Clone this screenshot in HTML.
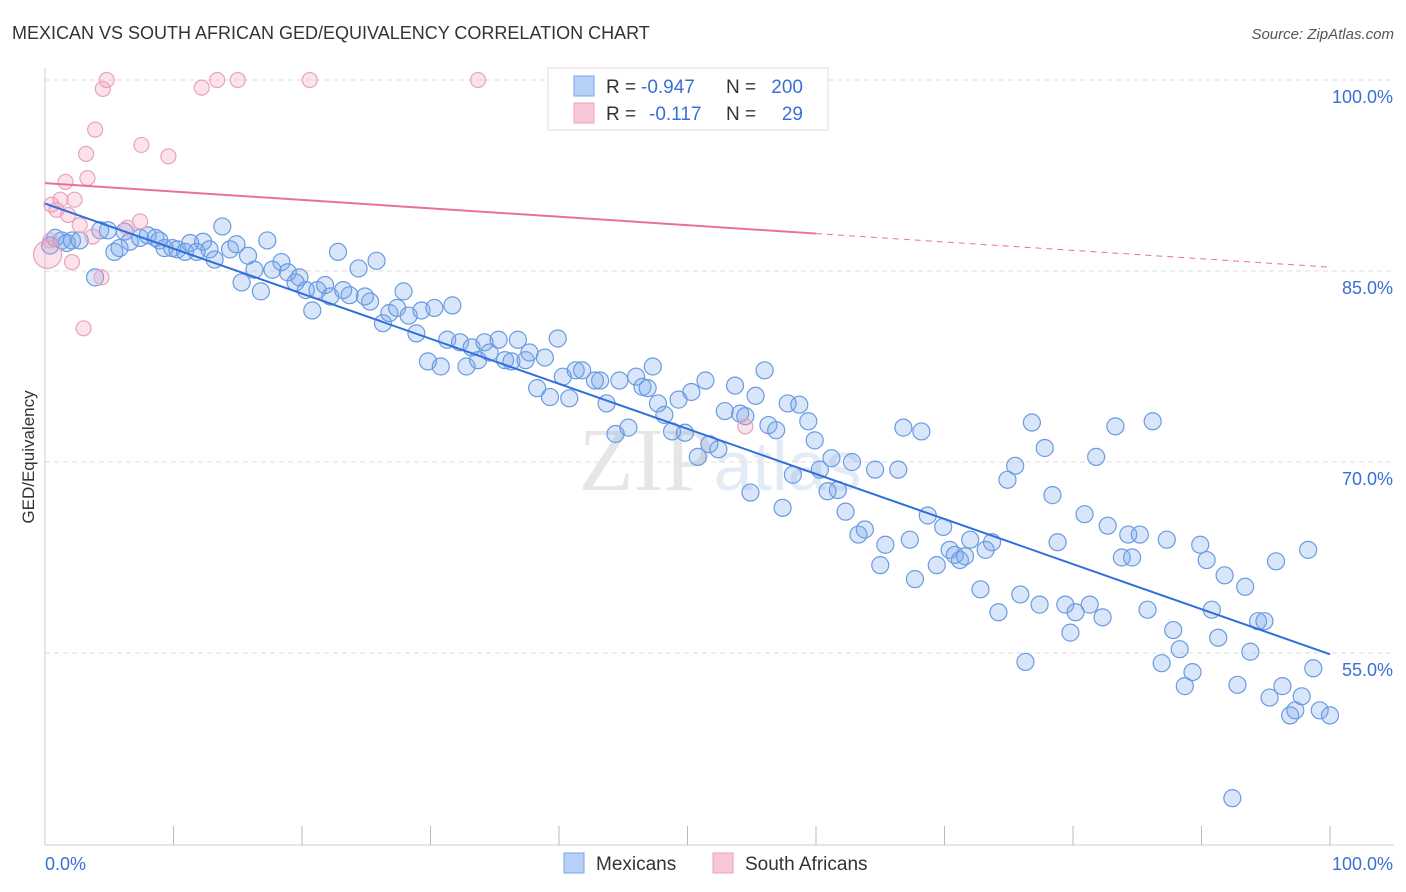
<!DOCTYPE html>
<html><head><meta charset="utf-8">
<style>
body{margin:0;background:#fff;font-family:"Liberation Sans",sans-serif;}
svg{display:block}
</style></head>
<body>
<svg id="chart" width="1406" height="892">
<text x="12" y="39" font-size="18" fill="#333">MEXICAN VS SOUTH AFRICAN GED/EQUIVALENCY CORRELATION CHART</text>
<text x="1394" y="39" font-size="15" fill="#555" font-style="italic" text-anchor="end">Source: ZipAtlas.com</text>
<text x="720" y="490" font-size="90" fill="#e6e6e6" text-anchor="middle" font-family="Liberation Serif">ZIP<tspan fill="#e3ebf6" font-family="Liberation Sans" font-size="70">atlas</tspan></text>
<g id="grid"></g>
<g id="axes"></g>
<g id="pts"></g>
<g id="trend"></g>
<text transform="translate(34,457) rotate(-90)" font-size="17" fill="#333" text-anchor="middle">GED/Equivalency</text>
<g font-size="19">
<rect x="548" y="68" width="280" height="62" fill="#fff" stroke="#ddd"/>
<rect x="574" y="76" width="20" height="20" fill="#b7d0f5" stroke="#7aa5e6"/>
<text x="606" y="93" fill="#333">R =</text>
<text x="641" y="93" fill="#3a6fd8">-0.947</text>
<text x="726" y="93" fill="#333">N =</text>
<text x="803" y="93" fill="#3a6fd8" text-anchor="end">200</text>
<rect x="574" y="103" width="20" height="20" fill="#f8c8d8" stroke="#eea0bb"/>
<text x="606" y="120" fill="#333">R =</text>
<text x="649" y="120" fill="#3a6fd8">-0.117</text>
<text x="726" y="120" fill="#333">N =</text>
<text x="803" y="120" fill="#3a6fd8" text-anchor="end">29</text>
</g>
<g>
<rect x="564" y="853" width="20" height="20" fill="#b7d0f5" stroke="#7aa5e6"/>
<text x="596" y="870" font-size="19" fill="#333">Mexicans</text>
<rect x="713" y="853" width="20" height="20" fill="#f8c8d8" stroke="#eea0bb"/>
<text x="745" y="870" font-size="19" fill="#333">South Africans</text>
</g>
</svg>
<script>
const blueX=[0.4,0.8,1.3,1.7,2.1,2.7,3.9,4.3,4.9,5.4,5.8,6.2,6.6,7.4,8.0,8.6,8.9,9.3,9.9,10.3,10.9,11.3,11.8,12.3,12.8,13.2,13.8,14.4,14.9,15.3,15.8,16.3,16.8,17.3,17.7,18.4,18.9,19.5,19.8,20.3,20.8,21.2,21.8,22.2,22.8,23.2,23.7,24.4,24.9,25.3,25.8,26.3,26.8,27.4,27.9,28.3,28.9,29.3,29.8,30.3,30.8,31.3,31.7,32.3,32.8,33.2,33.7,34.2,34.6,35.3,35.8,36.3,36.8,37.4,37.7,38.9,39.9,38.3,39.3,40.3,40.8,41.3,41.8,42.8,43.2,43.7,44.4,44.7,45.4,46.0,46.5,46.9,47.3,47.7,48.2,48.8,49.3,49.8,50.3,50.8,51.4,51.7,52.4,52.9,53.7,54.1,54.5,54.9,55.3,56.0,56.3,56.9,57.4,57.8,58.2,58.7,59.4,59.9,60.3,60.9,61.2,61.7,62.3,62.8,63.3,63.8,64.6,65.0,65.4,66.4,66.8,67.3,67.7,68.2,68.7,69.4,69.9,70.4,70.8,71.2,71.6,72.0,72.8,73.2,73.7,74.2,74.9,75.5,75.9,76.3,76.8,77.4,77.8,78.4,78.8,79.4,79.8,80.2,80.9,81.3,81.8,82.3,82.7,83.3,83.8,84.3,84.6,85.2,85.8,86.2,86.9,87.3,87.8,88.3,88.7,89.3,89.9,90.4,90.8,91.3,91.8,92.4,92.8,93.4,93.8,94.4,94.9,95.3,95.8,96.3,96.9,97.3,97.8,98.3,98.7,99.2,100.0];
const blueY=[87.0,87.6,87.4,87.2,87.4,87.4,84.5,88.2,88.2,86.5,86.8,88.1,87.3,87.6,87.8,87.6,87.4,86.8,86.8,86.7,86.5,87.2,86.5,87.3,86.7,85.9,88.5,86.7,87.1,84.1,86.2,85.1,83.4,87.4,85.1,85.7,84.9,84.1,84.5,83.5,81.9,83.5,83.9,83.0,86.5,83.5,83.1,85.2,83.0,82.6,85.8,80.9,81.7,82.1,83.4,81.5,80.1,81.9,77.9,82.1,77.5,79.6,82.3,79.4,77.5,79.0,78.0,79.4,78.6,79.6,78.0,77.9,79.6,78.0,78.6,78.2,79.7,75.8,75.1,76.7,75.0,77.2,77.2,76.4,76.4,74.6,72.2,76.4,72.7,76.7,75.9,75.8,77.5,74.6,73.7,72.4,74.9,72.3,75.5,70.4,76.4,71.4,71.0,74.0,76.0,73.8,73.6,67.6,75.2,77.2,72.9,72.5,66.4,74.6,69.0,74.5,73.2,71.7,69.4,67.7,70.3,67.8,66.1,70.0,64.3,64.7,69.4,61.9,63.5,69.4,72.7,63.9,60.8,72.4,65.8,61.9,64.9,63.1,62.7,62.3,62.6,63.9,60.0,63.1,63.7,58.2,68.6,69.7,59.6,54.3,73.1,58.8,71.1,67.4,63.7,58.8,56.6,58.2,65.9,58.8,70.4,57.8,65.0,72.8,62.5,64.3,62.5,64.3,58.4,73.2,54.2,63.9,56.8,55.3,52.4,53.5,63.5,62.3,58.4,56.2,61.1,43.6,52.5,60.2,55.1,57.5,57.5,51.5,62.2,52.4,50.1,50.5,51.6,63.1,53.8,50.5,50.1];
const pinkX=[0.2,0.4,0.5,0.9,1.2,1.6,1.8,2.1,2.3,2.7,3.0,3.2,3.3,3.7,3.9,4.4,4.5,4.8,6.4,7.4,7.5,9.6,12.2,13.4,15.0,20.6,33.7,54.5];
const pinkY=[86.3,87.4,90.2,89.8,90.6,92.0,89.4,85.7,90.6,88.6,80.5,94.2,92.3,87.7,96.1,84.5,99.3,100,88.4,88.9,94.9,94.0,99.4,100,100,100,100,72.8];
const blueTrend=[90.3,54.9];
const pinkTrend=[91.9,85.3];
const yTicks=[100,85,70,55];
const xTickLabels=["0.0%","100.0%"];

const NS="http://www.w3.org/2000/svg";
const X0=45,X1=1330,YTOP=80;
const sx=v=>X0+(X1-X0)*v/100;
const sy=v=>YTOP+(100-v)/15*191;
function mk(tag,attrs,parent){const e=document.createElementNS(NS,tag);for(const k in attrs)e.setAttribute(k,attrs[k]);parent.appendChild(e);return e;}
const grid=document.getElementById('grid'),axes=document.getElementById('axes'),pts=document.getElementById('pts'),trend=document.getElementById('trend');
yTicks.forEach(t=>{
  const l=mk('line',{x1:X0,x2:1394,y1:sy(t),y2:sy(t),stroke:'#ddd','stroke-dasharray':'5,4'},grid);
  
  
  const tx=mk('text',{x:1393,y:sy(t)+23,'font-size':18,fill:'#3a6fd8','text-anchor':'end'},axes);
  tx.textContent=t.toFixed(1)+'%';
  
  
});
const ax=mk('line',{x1:X0,x2:1394,y1:845,y2:845,stroke:'#ccc'},axes);


const ay=mk('line',{x1:X0,x2:X0,y1:68,y2:845,stroke:'#ccc'},axes);


for(let i=1;i<=10;i++){
  const t=mk('line',{x1:sx(i*10),x2:sx(i*10),y1:826,y2:845,stroke:'#bbb'},axes);
  
  
}
const xl0=mk('text',{x:45,y:870,'font-size':18,fill:'#3a6fd8'},axes);xl0.textContent=xTickLabels[0];


const xl1=mk('text',{x:1393,y:870,'font-size':18,fill:'#3a6fd8','text-anchor':'end'},axes);xl1.textContent=xTickLabels[1];



blueX.forEach((x,i)=>{
  const c=mk('circle',{cx:sx(x),cy:sy(blueY[i]),r:8.5,fill:'rgba(120,165,235,0.28)',stroke:'#6a9be2','stroke-width':1.2},pts);
  
  
});
pinkX.forEach((x,i)=>{
  const c=mk('circle',{cx:sx(x),cy:sy(pinkY[i]),r:i===0?14:7.5,fill:'rgba(242,160,190,0.3)',stroke:'#eba2bd','stroke-width':1.2},pts);
  
  
});
const bt=mk('line',{x1:sx(0),y1:sy(blueTrend[0]),x2:sx(100),y2:sy(blueTrend[1]),stroke:'#2f6fdc','stroke-width':2},trend);


const pm=pinkTrend[0]+(pinkTrend[1]-pinkTrend[0])*0.6;
const pt=mk('line',{x1:sx(0),y1:sy(pinkTrend[0]),x2:sx(60),y2:sy(pm),stroke:'#e8709a','stroke-width':2},trend);


const pd=mk('line',{x1:sx(60),y1:sy(pm),x2:sx(100),y2:sy(pinkTrend[1]),stroke:'#e8709a','stroke-width':1,'stroke-dasharray':'6,5'},trend);


</script>
</body></html>
